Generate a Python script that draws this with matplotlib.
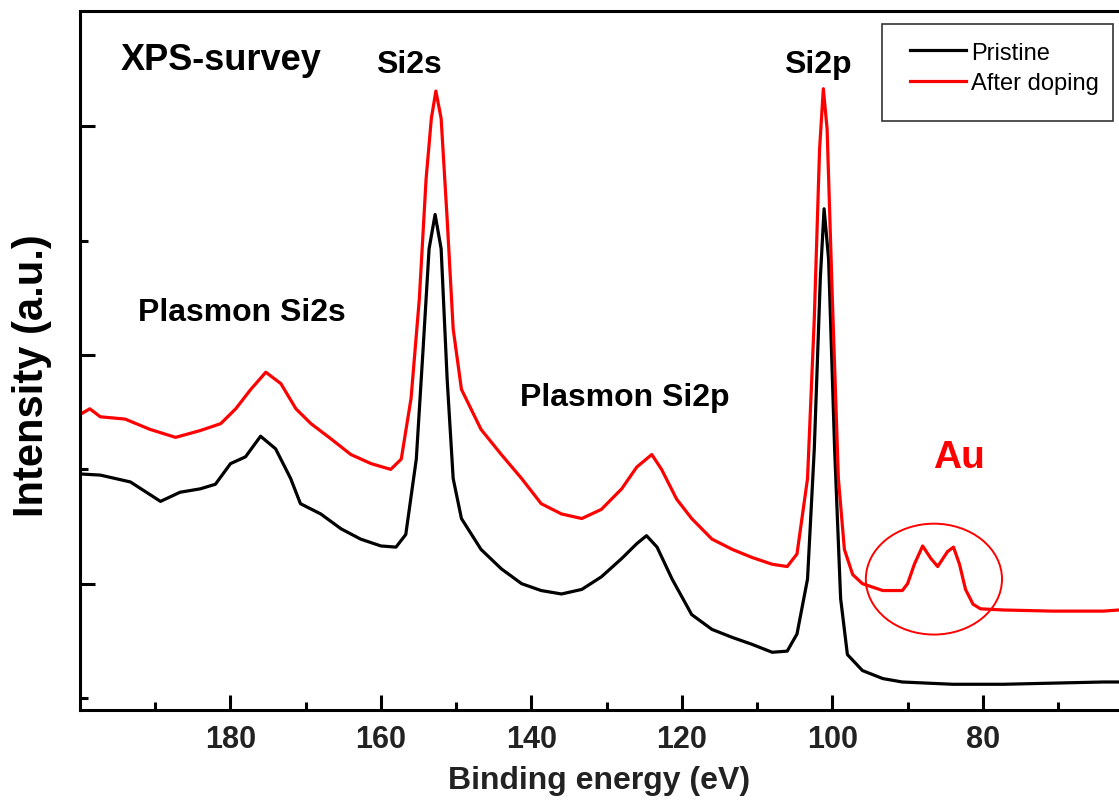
import matplotlib.pyplot as plt
from matplotlib.patches import Ellipse, Rectangle
from matplotlib.ticker import FixedLocator

plt.rcParams['font.family'] = ['Liberation Sans', 'DejaVu Sans']

# Pristine spectrum (binding energy eV, intensity a.u.)
pristine_ev = [200.0, 197.3, 193.3, 189.3, 186.7, 184.0, 182.0, 180.0, 178.0, 176.0,
               174.0, 172.0, 170.7, 168.0, 165.3, 162.7, 160.0, 158.0, 156.7, 155.3,
               154.4, 153.6, 152.8, 152.0, 151.2, 150.4, 149.3, 146.7, 144.0, 141.3,
               138.7, 136.0, 133.3, 130.7, 128.0, 126.0, 124.7, 123.3, 121.3, 118.7,
               116.0, 113.3, 110.7, 108.0, 106.0, 104.7, 103.3, 102.4, 101.6, 101.1,
               100.5, 99.7, 98.9, 98.0, 96.0, 93.3, 90.7, 84.0, 77.3, 70.7, 64.0, 61.9]
pristine_int = [1.96, 1.95, 1.89, 1.72, 1.80, 1.83, 1.87, 2.05, 2.11, 2.29,
                2.18, 1.92, 1.70, 1.61, 1.48, 1.39, 1.33, 1.32, 1.43, 2.09,
                3.05, 3.93, 4.23, 3.93, 2.79, 1.92, 1.57, 1.30, 1.13, 1.00,
                0.94, 0.91, 0.95, 1.06, 1.22, 1.35, 1.42, 1.32, 1.04, 0.73,
                0.60, 0.53, 0.47, 0.40, 0.41, 0.56, 1.04, 2.18, 3.67, 4.28,
                3.84, 2.18, 0.87, 0.38, 0.24, 0.17, 0.14, 0.12, 0.12, 0.13, 0.14, 0.14]

# After doping spectrum
doped_ev = [200.0, 198.7, 197.3, 194.0, 190.7, 187.3, 184.0, 181.3, 179.3, 177.3,
            175.3, 173.3, 171.3, 169.3, 166.7, 164.0, 161.3, 158.7, 157.3, 156.0,
            154.9, 154.0, 153.3, 152.7, 152.0, 151.2, 150.4, 149.3, 146.7, 144.0,
            141.3, 138.7, 136.0, 133.3, 130.7, 128.0, 126.0, 124.0, 122.7, 120.7,
            118.7, 116.0, 113.3, 110.7, 108.0, 106.0, 104.7, 103.3, 102.4, 101.7,
            101.2, 100.7, 100.0, 99.2, 98.4, 97.3, 96.0, 93.3, 90.7, 90.0,
            89.1, 88.0, 86.9, 86.0, 84.7, 83.9, 83.1, 82.3, 81.3, 80.3,
            77.3, 70.7, 64.0, 61.9]
doped_int = [2.48, 2.53, 2.46, 2.44, 2.35, 2.28, 2.34, 2.40, 2.53, 2.70,
             2.85, 2.75, 2.53, 2.40, 2.27, 2.13, 2.05, 2.00, 2.09, 2.62,
             3.49, 4.54, 5.07, 5.31, 5.07, 4.19, 3.23, 2.70, 2.35, 2.13,
             1.92, 1.70, 1.61, 1.57, 1.65, 1.83, 2.02, 2.13, 2.00, 1.74,
             1.57, 1.39, 1.30, 1.23, 1.17, 1.15, 1.26, 1.92, 3.32, 4.80,
             5.33, 4.98, 3.49, 1.92, 1.30, 1.08, 1.00, 0.94, 0.94, 1.00,
             1.17, 1.33, 1.22, 1.15, 1.28, 1.32, 1.17, 0.95, 0.82, 0.78,
             0.77, 0.76, 0.76, 0.77]

x_major = [180, 160, 140, 120, 100, 80]
x_minor = [190, 170, 150, 130, 110, 90, 70]

fig = plt.figure(figsize=(11.19, 8.03), dpi=100)
ax = fig.add_axes([80 / 1119, 92 / 803, 1039 / 1119, 699 / 803])

ax.plot(pristine_ev, pristine_int, color='black', lw=2.3, label='Pristine')
ax.plot(doped_ev, doped_int, color='#ff0000', lw=2.3, label='After doping')

ax.set_xlim(200, 61.9)
ax.set_ylim(-0.105, 6.01)

ax.xaxis.set_major_locator(FixedLocator(x_major))
ax.xaxis.set_minor_locator(FixedLocator(x_minor))
ax.yaxis.set_major_locator(FixedLocator([1, 3, 5]))
ax.yaxis.set_minor_locator(FixedLocator([0, 2, 4]))
ax.set_yticklabels([])
ax.tick_params(which='both', direction='in', width=2.2, top=False, right=False)
ax.tick_params(which='major', length=11, labelsize=22, pad=10)
ax.tick_params(which='minor', length=6)
for lab in ax.get_xticklabels():
    lab.set_fontweight('bold')
    lab.set_color('#222222')

for s in ['left', 'bottom', 'top']:
    ax.spines[s].set_linewidth(2.2)
ax.spines['right'].set_visible(False)

ax.set_xlabel('Binding energy (eV)', fontsize=23, fontweight='bold', color='#222222', labelpad=8)
ax.set_ylabel('Intensity (a.u.)', fontsize=30, fontweight='bold')
ax.yaxis.set_label_coords(-0.027, 0.48)

ax.text(181.2, 5.59, 'XPS-survey', fontsize=26, fontweight='bold', ha='center', va='center')
ax.text(156.3, 5.55, 'Si2s', fontsize=23, fontweight='bold', ha='center', va='center')
ax.text(101.9, 5.55, 'Si2p', fontsize=23, fontweight='bold', ha='center', va='center')
ax.text(178.5, 3.38, 'Plasmon Si2s', fontsize=23, fontweight='bold', ha='center', va='center')
ax.text(127.6, 2.63, 'Plasmon Si2p', fontsize=23, fontweight='bold', ha='center', va='center')
ax.text(83.2, 2.11, 'Au', fontsize=28, fontweight='bold', color='#ff0000', ha='center', va='center')

ax.add_patch(Ellipse((86.5, 1.04), 18.1, 0.97, fill=False, edgecolor='#ff0000', lw=1.4))

# legend box
fig.patches.append(Rectangle((882 / 1119, (803 - 122) / 803), 231 / 1119, 97 / 803,
                             transform=fig.transFigure, fill=False, edgecolor='#333333', lw=1.2))
ax.legend(loc='upper left', bbox_to_anchor=(893 / 1119, (803 - 26) / 803),
          bbox_transform=fig.transFigure, frameon=False, fontsize=17,
          handlelength=2.4, handletextpad=0.2, labelspacing=0.35, borderpad=0.2)

plt.savefig('out.png', dpi=100)
plt.close()
